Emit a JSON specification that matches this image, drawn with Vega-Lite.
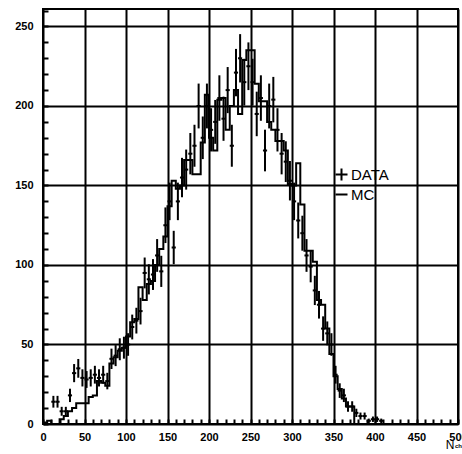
{
  "$schema": "https://vega.github.io/schema/vega-lite/v6.json",
  "width": 415,
  "height": 415,
  "autosize": "none",
  "padding": {"left": 43, "top": 9, "right": 4, "bottom": 30},
  "background": "white",
  "view": {"stroke": "black", "strokeWidth": 2, "fill": "white"},
  "config": {
    "view": {"stroke": "black", "strokeWidth": 2},
    "axis": {
      "domain": false,
      "grid": true,
      "gridColor": "black",
      "gridWidth": 2,
      "tickColor": "black",
      "tickWidth": 2,
      "tickSize": -5,
      "tickCount": 200,
      "labelFont": "Liberation Sans",
      "labelFontWeight": "bold",
      "labelFontSize": 11,
      "labelColor": "black"
    },
    "legend": {"padding": 0}
  },
  "datasets": {
    "mc": [
      {"x0": 0, "mc": 1}, {"x0": 5, "mc": 2}, {"x0": 10, "mc": 0}, {"x0": 15, "mc": 0},
      {"x0": 20, "mc": 3}, {"x0": 25, "mc": 5}, {"x0": 30, "mc": 8}, {"x0": 35, "mc": 10},
      {"x0": 40, "mc": 13}, {"x0": 45, "mc": 13}, {"x0": 50, "mc": 13}, {"x0": 55, "mc": 17},
      {"x0": 60, "mc": 18}, {"x0": 65, "mc": 27}, {"x0": 70, "mc": 26}, {"x0": 75, "mc": 24},
      {"x0": 80, "mc": 38}, {"x0": 85, "mc": 42}, {"x0": 90, "mc": 46}, {"x0": 95, "mc": 48},
      {"x0": 100, "mc": 55}, {"x0": 105, "mc": 64}, {"x0": 110, "mc": 66}, {"x0": 115, "mc": 86},
      {"x0": 120, "mc": 78}, {"x0": 125, "mc": 88}, {"x0": 130, "mc": 90}, {"x0": 135, "mc": 100},
      {"x0": 140, "mc": 110}, {"x0": 145, "mc": 118}, {"x0": 150, "mc": 137}, {"x0": 155, "mc": 153},
      {"x0": 160, "mc": 148}, {"x0": 165, "mc": 150}, {"x0": 170, "mc": 166}, {"x0": 175, "mc": 166},
      {"x0": 180, "mc": 157}, {"x0": 185, "mc": 157}, {"x0": 190, "mc": 177}, {"x0": 195, "mc": 207},
      {"x0": 200, "mc": 180}, {"x0": 205, "mc": 172}, {"x0": 210, "mc": 204}, {"x0": 215, "mc": 205},
      {"x0": 220, "mc": 185}, {"x0": 225, "mc": 200}, {"x0": 230, "mc": 210}, {"x0": 235, "mc": 195},
      {"x0": 240, "mc": 229}, {"x0": 245, "mc": 235}, {"x0": 250, "mc": 235}, {"x0": 255, "mc": 214},
      {"x0": 260, "mc": 203}, {"x0": 265, "mc": 203}, {"x0": 270, "mc": 190}, {"x0": 275, "mc": 185},
      {"x0": 280, "mc": 178}, {"x0": 285, "mc": 178}, {"x0": 290, "mc": 172}, {"x0": 295, "mc": 151},
      {"x0": 300, "mc": 150}, {"x0": 305, "mc": 164}, {"x0": 310, "mc": 138}, {"x0": 315, "mc": 109},
      {"x0": 320, "mc": 109}, {"x0": 325, "mc": 102}, {"x0": 330, "mc": 78}, {"x0": 335, "mc": 75},
      {"x0": 340, "mc": 60}, {"x0": 345, "mc": 44}, {"x0": 350, "mc": 30}, {"x0": 355, "mc": 22},
      {"x0": 360, "mc": 16}, {"x0": 365, "mc": 11}, {"x0": 370, "mc": 11}, {"x0": 375, "mc": 0},
      {"x0": 500, "mc": 0}
    ],
    "obs": [
      {"x0": 10, "x1": 15, "xc": 12.5, "n": 14, "lo": 10.3, "hi": 17.7},
      {"x0": 15, "x1": 20, "xc": 17.5, "n": 14, "lo": 10.3, "hi": 17.7},
      {"x0": 20, "x1": 25, "xc": 22.5, "n": 8, "lo": 5.2, "hi": 10.8},
      {"x0": 25, "x1": 30, "xc": 27.5, "n": 8, "lo": 5.2, "hi": 10.8},
      {"x0": 30, "x1": 35, "xc": 32.5, "n": 18, "lo": 13.8, "hi": 22.2},
      {"x0": 35, "x1": 40, "xc": 37.5, "n": 32, "lo": 26.3, "hi": 37.7},
      {"x0": 40, "x1": 45, "xc": 42.5, "n": 35, "lo": 29.1, "hi": 40.9},
      {"x0": 45, "x1": 50, "xc": 47.5, "n": 29, "lo": 23.6, "hi": 34.4},
      {"x0": 50, "x1": 55, "xc": 52.5, "n": 28, "lo": 22.7, "hi": 33.3},
      {"x0": 55, "x1": 60, "xc": 57.5, "n": 29, "lo": 23.6, "hi": 34.4},
      {"x0": 60, "x1": 65, "xc": 62.5, "n": 31, "lo": 25.4, "hi": 36.6},
      {"x0": 65, "x1": 70, "xc": 67.5, "n": 29, "lo": 23.6, "hi": 34.4},
      {"x0": 70, "x1": 75, "xc": 72.5, "n": 31, "lo": 25.4, "hi": 36.6},
      {"x0": 75, "x1": 80, "xc": 77.5, "n": 27, "lo": 21.8, "hi": 32.2},
      {"x0": 80, "x1": 85, "xc": 82.5, "n": 41, "lo": 34.6, "hi": 47.4},
      {"x0": 85, "x1": 90, "xc": 87.5, "n": 43, "lo": 36.4, "hi": 49.6},
      {"x0": 90, "x1": 95, "xc": 92.5, "n": 47, "lo": 40.1, "hi": 53.9},
      {"x0": 95, "x1": 100, "xc": 97.5, "n": 48, "lo": 41.1, "hi": 54.9},
      {"x0": 100, "x1": 105, "xc": 102.5, "n": 50, "lo": 42.9, "hi": 57.1},
      {"x0": 105, "x1": 110, "xc": 107.5, "n": 61, "lo": 53.2, "hi": 68.8},
      {"x0": 110, "x1": 115, "xc": 112.5, "n": 65, "lo": 56.9, "hi": 73.1},
      {"x0": 115, "x1": 120, "xc": 117.5, "n": 71, "lo": 62.6, "hi": 79.4},
      {"x0": 120, "x1": 125, "xc": 122.5, "n": 95, "lo": 85.3, "hi": 104.7},
      {"x0": 125, "x1": 130, "xc": 127.5, "n": 91, "lo": 81.5, "hi": 100.5},
      {"x0": 130, "x1": 135, "xc": 132.5, "n": 94, "lo": 84.3, "hi": 103.7},
      {"x0": 135, "x1": 140, "xc": 137.5, "n": 106, "lo": 95.7, "hi": 116.3},
      {"x0": 140, "x1": 145, "xc": 142.5, "n": 96, "lo": 86.2, "hi": 105.8},
      {"x0": 145, "x1": 150, "xc": 147.5, "n": 125, "lo": 113.8, "hi": 136.2},
      {"x0": 150, "x1": 155, "xc": 152.5, "n": 140, "lo": 128.2, "hi": 151.8},
      {"x0": 155, "x1": 160, "xc": 157.5, "n": 111, "lo": 100.5, "hi": 121.5},
      {"x0": 160, "x1": 165, "xc": 162.5, "n": 140, "lo": 128.2, "hi": 151.8},
      {"x0": 165, "x1": 170, "xc": 167.5, "n": 155, "lo": 142.6, "hi": 167.4},
      {"x0": 170, "x1": 175, "xc": 172.5, "n": 160, "lo": 147.4, "hi": 172.6},
      {"x0": 175, "x1": 180, "xc": 177.5, "n": 170, "lo": 157.0, "hi": 183.0},
      {"x0": 180, "x1": 185, "xc": 182.5, "n": 175, "lo": 161.8, "hi": 188.2},
      {"x0": 185, "x1": 190, "xc": 187.5, "n": 200, "lo": 185.9, "hi": 214.1},
      {"x0": 190, "x1": 195, "xc": 192.5, "n": 180, "lo": 166.6, "hi": 193.4},
      {"x0": 195, "x1": 200, "xc": 197.5, "n": 200, "lo": 185.9, "hi": 214.1},
      {"x0": 200, "x1": 205, "xc": 202.5, "n": 185, "lo": 171.4, "hi": 198.6},
      {"x0": 205, "x1": 210, "xc": 207.5, "n": 190, "lo": 176.2, "hi": 203.8},
      {"x0": 210, "x1": 215, "xc": 212.5, "n": 205, "lo": 190.7, "hi": 219.3},
      {"x0": 215, "x1": 220, "xc": 217.5, "n": 192, "lo": 178.1, "hi": 205.9},
      {"x0": 220, "x1": 225, "xc": 222.5, "n": 210, "lo": 195.5, "hi": 224.5},
      {"x0": 225, "x1": 230, "xc": 227.5, "n": 175, "lo": 161.8, "hi": 188.2},
      {"x0": 230, "x1": 235, "xc": 232.5, "n": 221, "lo": 206.1, "hi": 235.9},
      {"x0": 235, "x1": 240, "xc": 237.5, "n": 230, "lo": 214.8, "hi": 245.2},
      {"x0": 240, "x1": 245, "xc": 242.5, "n": 215, "lo": 200.3, "hi": 229.7},
      {"x0": 245, "x1": 250, "xc": 247.5, "n": 225, "lo": 210.0, "hi": 240.0},
      {"x0": 250, "x1": 255, "xc": 252.5, "n": 215, "lo": 200.3, "hi": 229.7},
      {"x0": 255, "x1": 260, "xc": 257.5, "n": 195, "lo": 181.0, "hi": 209.0},
      {"x0": 260, "x1": 265, "xc": 262.5, "n": 205, "lo": 190.7, "hi": 219.3},
      {"x0": 265, "x1": 270, "xc": 267.5, "n": 172, "lo": 158.9, "hi": 185.1},
      {"x0": 270, "x1": 275, "xc": 272.5, "n": 200, "lo": 185.9, "hi": 214.1},
      {"x0": 275, "x1": 280, "xc": 277.5, "n": 204, "lo": 189.7, "hi": 218.3},
      {"x0": 280, "x1": 285, "xc": 282.5, "n": 185, "lo": 171.4, "hi": 198.6},
      {"x0": 285, "x1": 290, "xc": 287.5, "n": 170, "lo": 157.0, "hi": 183.0},
      {"x0": 290, "x1": 295, "xc": 292.5, "n": 165, "lo": 152.2, "hi": 177.8},
      {"x0": 295, "x1": 300, "xc": 297.5, "n": 153, "lo": 140.6, "hi": 165.4},
      {"x0": 300, "x1": 305, "xc": 302.5, "n": 140, "lo": 128.2, "hi": 151.8},
      {"x0": 305, "x1": 310, "xc": 307.5, "n": 128, "lo": 116.7, "hi": 139.3},
      {"x0": 310, "x1": 315, "xc": 312.5, "n": 120, "lo": 109.0, "hi": 131.0},
      {"x0": 315, "x1": 320, "xc": 317.5, "n": 106, "lo": 95.7, "hi": 116.3},
      {"x0": 320, "x1": 325, "xc": 322.5, "n": 99, "lo": 89.1, "hi": 108.9},
      {"x0": 325, "x1": 330, "xc": 327.5, "n": 84, "lo": 74.8, "hi": 93.2},
      {"x0": 330, "x1": 335, "xc": 332.5, "n": 75, "lo": 66.3, "hi": 83.7},
      {"x0": 335, "x1": 340, "xc": 337.5, "n": 60, "lo": 52.3, "hi": 67.7},
      {"x0": 340, "x1": 345, "xc": 342.5, "n": 57, "lo": 49.5, "hi": 64.5},
      {"x0": 345, "x1": 350, "xc": 347.5, "n": 50, "lo": 42.9, "hi": 57.1},
      {"x0": 350, "x1": 355, "xc": 352.5, "n": 31, "lo": 25.4, "hi": 36.6},
      {"x0": 355, "x1": 360, "xc": 357.5, "n": 21, "lo": 16.4, "hi": 25.6},
      {"x0": 360, "x1": 365, "xc": 362.5, "n": 18, "lo": 13.8, "hi": 22.2},
      {"x0": 365, "x1": 370, "xc": 367.5, "n": 11, "lo": 7.7, "hi": 14.3},
      {"x0": 370, "x1": 375, "xc": 372.5, "n": 11, "lo": 7.7, "hi": 14.3},
      {"x0": 375, "x1": 380, "xc": 377.5, "n": 7, "lo": 4.4, "hi": 9.6},
      {"x0": 380, "x1": 385, "xc": 382.5, "n": 5, "lo": 2.8, "hi": 7.2},
      {"x0": 385, "x1": 390, "xc": 387.5, "n": 5, "lo": 2.8, "hi": 7.2},
      {"x0": 390, "x1": 395, "xc": 392.5, "n": 2, "lo": 0.6, "hi": 3.4},
      {"x0": 395, "x1": 400, "xc": 397.5, "n": 3, "lo": 1.3, "hi": 4.7},
      {"x0": 400, "x1": 405, "xc": 402.5, "n": 3, "lo": 1.3, "hi": 4.7},
      {"x0": 405, "x1": 410, "xc": 407.5, "n": 2, "lo": 0.6, "hi": 3.4}
    ],
    "sub": [{"t": "ch"}]
  },
  "layer": [
    {
      "data": {"name": "mc"},
      "mark": {"type": "line", "interpolate": "step-after", "strokeWidth": 2, "clip": true},
      "encoding": {
        "x": {
          "field": "x0", "type": "quantitative",
          "scale": {"domain": [0, 500], "nice": false, "zero": false},
          "axis": {
            "values": [0,10,20,30,40,50,60,70,80,90,100,110,120,130,140,150,160,170,180,190,200,210,220,230,240,250,260,270,280,290,300,310,320,330,340,350,360,370,380,390,400,410,420,430,440,450,460,470,480,490,500],
            "tickCount": 200,
            "labelExpr": "datum.value % 50 === 0 ? datum.label : ''",
            "gridOpacity": {"condition": {"test": "datum.value % 50 === 0", "value": 1}, "value": 0},
            "labelPadding": 12,
            "labelFlush": false,
            "labelOverlap": false,
            "title": "N",
            "titleFont": "Liberation Sans",
            "titleFontWeight": "normal",
            "titleFontSize": 12,
            "titleAnchor": "end",
            "titleAlign": "right",
            "titleX": 411,
            "titleY": 24,
            "titleBaseline": "alphabetic"
          }
        },
        "y": {
          "field": "mc", "type": "quantitative",
          "scale": {"domain": [0, 261], "nice": false},
          "axis": {
            "values": [0,10,20,30,40,50,60,70,80,90,100,110,120,130,140,150,160,170,180,190,200,210,220,230,240,250,260],
            "tickCount": 200,
            "labelExpr": "datum.value % 50 === 0 ? datum.label : ''",
            "gridOpacity": {"condition": {"test": "datum.value % 50 === 0", "value": 1}, "value": 0},
            "labelPadding": 15,
            "labelOverlap": false,
            "labelFlush": false,
            "title": null
          }
        },
        "stroke": {
          "datum": "MC",
          "scale": {"domain": ["DATA", "MC"], "range": ["black", "black"]},
          "legend": {
            "orient": "none",
            "legendX": 291,
            "legendY": 158,
            "title": null,
            "labelFont": "Liberation Sans",
            "labelFontSize": 15,
            "labelColor": "black",
            "labelOffset": 2,
            "rowPadding": 2,
            "symbolSize": 144,
            "symbolStrokeWidth": 2,
            "symbolStrokeColor": "black",
            "encode": {
              "symbols": {
                "update": {
                  "shape": {"signal": "datum.value === 'DATA' ? 'M-1,0H1M0,-1V1' : 'M-1,0H1'"},
                  "stroke": {"value": "black"},
                  "strokeWidth": {"value": 2},
                  "fill": {"value": "transparent"}
                }
              }
            }
          }
        }
      }
    },
    {
      "data": {"name": "obs"},
      "mark": {"type": "rule", "strokeWidth": 2},
      "encoding": {
        "x": {"field": "xc", "type": "quantitative"},
        "y": {"field": "lo", "type": "quantitative"},
        "y2": {"field": "hi"},
        "stroke": {"datum": "DATA"}
      }
    },
    {
      "data": {"name": "obs"},
      "mark": {"type": "rule", "strokeWidth": 2},
      "encoding": {
        "x": {"field": "x0", "type": "quantitative"},
        "x2": {"field": "x1"},
        "y": {"field": "n", "type": "quantitative"},
        "stroke": {"datum": "DATA"}
      }
    },
    {
      "data": {"name": "sub"},
      "mark": {"type": "text", "font": "Liberation Sans", "fontSize": 6, "fontWeight": "bold", "align": "left", "baseline": "alphabetic", "dx": -3, "dy": 24},
      "encoding": {
        "x": {"datum": 500, "type": "quantitative"},
        "y": {"datum": 0, "type": "quantitative"},
        "text": {"field": "t"}
      }
    }
  ]
}
